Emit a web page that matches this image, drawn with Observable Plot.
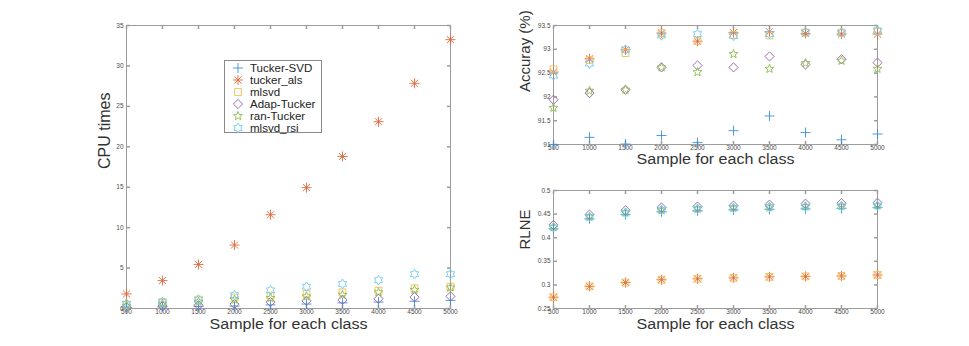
<!DOCTYPE html>
<html>
<head>
<meta charset="utf-8">
<script src="https://cdn.jsdelivr.net/npm/d3@7"></script>
<script src="https://cdn.jsdelivr.net/npm/@observablehq/plot@0.6"></script>
<style>
  html, body { margin: 0; padding: 0; background: #fff; }
  #wrap { position: relative; width: 969px; height: 346px; overflow: hidden; background: #fff; font-family: "Liberation Sans", Arial, sans-serif; }
  #wrap > svg, #wrap > div { position: absolute; }
  .legend { border: 1px solid #8a8a8a; background: #fff; box-sizing: border-box; }
  .legend .row { position: absolute; left: 0; height: 12px; font-size: 11.5px; color: #222; white-space: nowrap; }
  .legend .row svg { position: absolute; left: 5px; top: -1px; }
  .legend .row span { position: absolute; left: 25px; line-height: 12px; top: 0; }
</style>
</head>
<body>
<div id="wrap"></div>
<script>
// ---------------- data ----------------
const samples = [500, 1000, 1500, 2000, 2500, 3000, 3500, 4000, 4500, 5000];
const methods = ["Tucker-SVD", "tucker_als", "mlsvd", "Adap-Tucker", "ran-Tucker", "mlsvd_rsi"];

// CPU times
const cpuTuckerSVD = [0.1, 0.2, 0.25, 0.3, 0.45, 0.55, 0.7, 0.8, 0.9, 1.0];
const cpuTuckerALS = [1.8, 3.45, 5.45, 7.85, 11.6, 14.95, 18.8, 23.1, 27.85, 33.25];
const cpuMlsvd     = [0.4, 0.8, 1.1, 1.35, 1.6, 1.8, 2.0, 2.2, 2.5, 2.7];
const cpuAdap      = [0.15, 0.3, 0.4, 0.55, 0.8, 0.95, 1.05, 1.2, 1.4, 1.5];
const cpuRan       = [0.35, 0.6, 0.85, 1.1, 1.3, 1.5, 1.7, 2.0, 2.3, 2.6];
const cpuRsi       = [0.6, 0.8, 1.1, 1.65, 2.25, 2.7, 3.05, 3.5, 4.25, 4.25];

// Accuracy (%)
const accTuckerSVD = [91.0, 91.15, 91.01, 91.19, 91.04, 91.29, 91.6, 91.25, 91.1, 91.22];
const accTuckerALS = [92.52, 92.8, 92.99, 93.34, 93.17, 93.35, 93.37, 93.33, 93.32, 93.32];
const accMlsvd     = [92.58, 92.78, 92.92, 93.34, 93.17, 93.3, 93.29, 93.35, 93.35, 93.38];
const accAdap      = [91.94, 92.08, 92.15, 92.62, 92.66, 92.62, 92.85, 92.68, 92.79, 92.72];
const accRan       = [91.77, 92.13, 92.15, 92.62, 92.52, 92.9, 92.59, 92.71, 92.76, 92.59];
const accRsi       = [92.45, 92.7, 92.99, 93.29, 93.32, 93.28, 93.32, 93.36, 93.35, 93.39];

// RLNE
const rlTuckerSVD = [0.419, 0.440, 0.449, 0.455, 0.457, 0.459, 0.460, 0.461, 0.462, 0.464];
const rlTuckerALS = [0.274, 0.297, 0.305, 0.311, 0.313, 0.315, 0.317, 0.318, 0.319, 0.321];
const rlMlsvd     = [0.274, 0.297, 0.305, 0.311, 0.313, 0.315, 0.317, 0.318, 0.319, 0.321];
const rlAdap      = [0.427, 0.449, 0.458, 0.464, 0.466, 0.468, 0.470, 0.472, 0.473, 0.474];
const rlRan       = [0.422, 0.444, 0.453, 0.458, 0.461, 0.463, 0.464, 0.466, 0.467, 0.468];
const rlRsi       = [0.422, 0.444, 0.453, 0.459, 0.461, 0.463, 0.465, 0.466, 0.467, 0.468];

// ticks
const cpuTicks = [0, 5, 10, 15, 20, 25, 30, 35];
const accTicks = [91, 91.5, 92, 92.5, 93, 93.5];
const rlTicks  = [0.25, 0.3, 0.35, 0.4, 0.45, 0.5];

const xLabel = "Sample for each class";

// ---------------- styling ----------------
const colors = ["#3d8fd6", "#e2673a", "#efbe4c", "#9a5bab", "#8cbd4f", "#6ccbef"];
const rad = r => Math.sqrt(r / Math.PI);
const symPlus = { draw(c, s) { const r = rad(s); c.moveTo(-r, 0); c.lineTo(r, 0); c.moveTo(0, -r); c.lineTo(0, r); } };
const symAst = { draw(c, s) { const r = rad(s), d = r * Math.SQRT1_2;
  c.moveTo(-r, 0); c.lineTo(r, 0); c.moveTo(0, -r); c.lineTo(0, r);
  c.moveTo(-d, -d); c.lineTo(d, d); c.moveTo(-d, d); c.lineTo(d, -d); } };
const symSquare = { draw(c, s) { const r = rad(s); c.moveTo(-r, -r); c.lineTo(r, -r); c.lineTo(r, r); c.lineTo(-r, r); c.closePath(); } };
const symDiamond = { draw(c, s) { const r = rad(s); c.moveTo(0, -r); c.lineTo(r, 0); c.lineTo(0, r); c.lineTo(-r, 0); c.closePath(); } };
function starSym(n, inner) {
  return { draw(c, s) { const r = rad(s);
    for (let i = 0; i < 2 * n; i++) {
      const a = -Math.PI / 2 + i * Math.PI / n, rr = i % 2 ? r * inner : r;
      const x = rr * Math.cos(a), y = rr * Math.sin(a);
      i ? c.lineTo(x, y) : c.moveTo(x, y);
    }
    c.closePath(); } };
}
const symStar = starSym(5, 0.42);
const symHex = starSym(6, 0.58);
const symbols = [symPlus, symAst, symSquare, symDiamond, symStar, symHex];
const sizes = [5, 5, 3.4, 4.6, 4.6, 4.8];

const tickIn = {
  left:   { draw(c, s) { const r = rad(s); c.moveTo(0, 0); c.lineTo(r, 0); } },
  right:  { draw(c, s) { const r = rad(s); c.moveTo(0, 0); c.lineTo(-r, 0); } },
  top:    { draw(c, s) { const r = rad(s); c.moveTo(0, 0); c.lineTo(0, r); } },
  bottom: { draw(c, s) { const r = rad(s); c.moveTo(0, 0); c.lineTo(0, -r); } }
};

const frameColor = "#9c9c9c";
const font = "'Liberation Sans', Arial, Helvetica, sans-serif";

function panel({ series, yDomain, yTicks, yLabel, yLabelSize, width, height, ml, mr, mt, mb, yLabelDx, yLabelDy, xLabelDy }) {
  const marks = [];
  marks.push(Plot.frame({ stroke: frameColor, strokeWidth: 1 }));
  // inward ticks on all four sides
  marks.push(Plot.dot(yTicks, { y: d => d, frameAnchor: "left", symbol: tickIn.left, r: 3.5, stroke: frameColor, fill: "none" }));
  marks.push(Plot.dot(yTicks, { y: d => d, frameAnchor: "right", symbol: tickIn.right, r: 3.5, stroke: frameColor, fill: "none" }));
  marks.push(Plot.dot(samples, { x: d => d, frameAnchor: "top", symbol: tickIn.top, r: 3.5, stroke: frameColor, fill: "none" }));
  marks.push(Plot.dot(samples, { x: d => d, frameAnchor: "bottom", symbol: tickIn.bottom, r: 3.5, stroke: frameColor, fill: "none" }));
  // tick labels
  marks.push(Plot.axisX(samples, { anchor: "bottom", tickSize: 0, tickPadding: 0.5, fontSize: 6.5, fill: "#4a4a4a", label: null, tickFormat: d => String(d) }));
  marks.push(Plot.axisY(yTicks, { anchor: "left", tickSize: 0, tickPadding: 3, fontSize: 6.5, fill: "#4a4a4a", label: null, tickFormat: d => String(d) }));
  // data
  series.forEach((vals, i) => {
    const data = samples.map((s, j) => ({ x: s, y: vals[j], method: methods[i] }));
    marks.push(Plot.dot(data, { x: "x", y: "y", symbol: symbols[i], r: sizes[i], stroke: colors[i], strokeWidth: 0.9, fill: "none" }));
  });
  // axis labels
  marks.push(Plot.text([xLabel], { frameAnchor: "bottom", dy: xLabelDy, fontSize: 14, fill: "#333" }));
  marks.push(Plot.text([yLabel], { frameAnchor: "left", rotate: -90, dx: yLabelDx, dy: yLabelDy, fontSize: yLabelSize, fill: "#333" }));

  const svg = Plot.plot({
    width, height,
    marginLeft: ml, marginRight: mr, marginTop: mt, marginBottom: mb,
    x: { domain: [500, 5000] },
    y: { domain: yDomain },
    style: { fontFamily: font, background: "transparent", overflow: "visible" },
    marks
  });
  // the reference's x-axis title is drawn slightly wide
  d3.select(svg).selectAll("text").filter(function () { return this.textContent === xLabel; })
    .attr("textLength", 158).attr("lengthAdjust", "spacingAndGlyphs");
  return svg;
}

const wrap = document.getElementById("wrap");

const p1 = panel({
  series: [cpuTuckerSVD, cpuTuckerALS, cpuMlsvd, cpuAdap, cpuRan, cpuRsi],
  yDomain: [0, 35], yTicks: cpuTicks, yLabel: "CPU times", yLabelSize: 16,
  width: 470, height: 346, ml: 126, mr: 20, mt: 25, mb: 38,
  yLabelDx: -22, yLabelDy: 2, xLabelDy: 20
});
p1.style.left = "0px"; p1.style.top = "0px";
wrap.appendChild(p1);

const p2 = panel({
  series: [accTuckerSVD, accTuckerALS, accMlsvd, accAdap, accRan, accRsi],
  yDomain: [91, 93.5], yTicks: accTicks, yLabel: "Accuray (%)", yLabelSize: 15,
  width: 489, height: 175, ml: 73, mr: 92, mt: 25, mb: 31,
  yLabelDx: -28, yLabelDy: 7, xLabelDy: 19.5
});
p2.style.left = "480px"; p2.style.top = "0px";
wrap.appendChild(p2);

const p3 = panel({
  series: [rlTuckerSVD, rlTuckerALS, rlMlsvd, rlAdap, rlRan, rlRsi],
  yDomain: [0.25, 0.5], yTicks: rlTicks, yLabel: "RLNE", yLabelSize: 15,
  width: 489, height: 176, ml: 73, mr: 92, mt: 20, mb: 38,
  yLabelDx: -28, yLabelDy: 0, xLabelDy: 20
});
p3.style.left = "480px"; p3.style.top = "170px";
wrap.appendChild(p3);

// legend (inside the CPU panel)
const leg = document.createElement("div");
leg.className = "legend";
Object.assign(leg.style, { left: "224px", top: "60px", width: "98px", height: "73px" });
methods.forEach((m, i) => {
  const row = document.createElement("div");
  row.className = "row";
  row.style.top = (0.5 + i * 12.1) + "px";
  const svg = d3.create("svg").attr("width", 16).attr("height", 14);
  svg.append("path")
    .attr("d", d3.symbol(symbols[i], Math.PI * sizes[i] * sizes[i])())
    .attr("transform", "translate(8,7)")
    .attr("fill", "none").attr("stroke", colors[i]).attr("stroke-width", 0.9);
  row.appendChild(svg.node());
  const sp = document.createElement("span");
  sp.textContent = m;
  row.appendChild(sp);
  leg.appendChild(row);
});
wrap.appendChild(leg);
</script>
</body>
</html>
